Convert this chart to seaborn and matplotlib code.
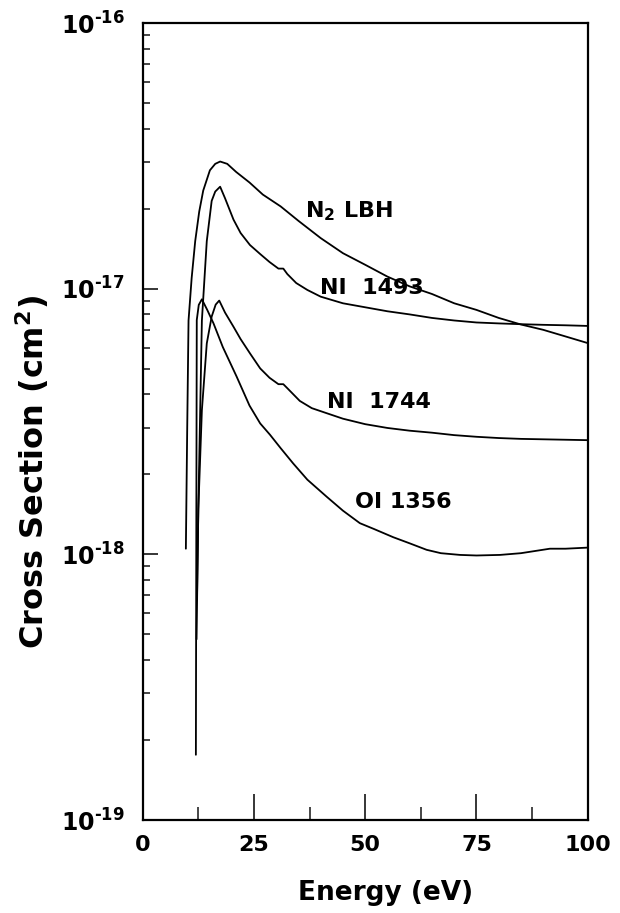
import numpy as np
import pandas as pd
import matplotlib
matplotlib.use("Agg")
import matplotlib.pyplot as plt
import seaborn as sns
from matplotlib import font_manager
from matplotlib.ticker import FixedLocator, FuncFormatter, LogLocator, NullFormatter

# ---------------- data (cross sections in units of 1e-18 cm^2) ----------------
n2_energy = [9.7, 10.0, 10.3, 11.0, 11.8, 12.7, 13.6, 15.1, 16.3, 17.4, 19.0, 21.0, 24.0, 27.0,
             31.0, 35.0, 40.0, 45.0, 50.0, 55.0, 60.0, 65.0, 70.0, 75.0, 80.0, 85.0, 90.0, 95.0, 100.0]
n2_sigma = [1.05, 2.95, 7.59, 10.96, 15.1, 19.5, 23.4, 27.9, 29.5, 30.1, 29.5, 27.5, 25.1, 22.6,
            20.4, 18.0, 15.5, 13.6, 12.3, 11.1, 10.2, 9.55, 8.81, 8.32, 7.76, 7.33, 7.00, 6.61, 6.24]

ni1493_energy = [12.1, 12.5, 13.3, 14.4, 15.5, 16.3, 17.4, 18.5, 20.4, 22.0, 24.1, 26.4, 28.5, 30.5,
                 31.6, 32.5, 34.5, 37.0, 40.0, 45.0, 50.0, 55.0, 60.0, 65.0, 70.0, 75.0, 80.0, 85.0,
                 90.0, 95.0, 100.0]
ni1493_sigma = [0.479, 1.48, 7.59, 15.1, 21.4, 23.2, 24.2, 21.9, 18.2, 16.2, 14.6, 13.5, 12.6, 11.9,
                11.9, 11.35, 10.5, 9.89, 9.33, 8.81, 8.51, 8.22, 8.00, 7.76, 7.59, 7.46, 7.40, 7.35,
                7.31, 7.28, 7.24]

ni1744_energy = [12.2, 12.5, 13.3, 14.4, 15.5, 16.4, 17.2, 18.5, 20.4, 22.0, 24.1, 26.4, 28.5, 30.5,
                 31.6, 32.5, 35.3, 38.0, 41.3, 45.0, 50.0, 55.0, 60.0, 65.0, 70.0, 75.0, 80.0, 85.0,
                 90.0, 95.0, 100.0]
ni1744_sigma = [0.676, 1.48, 3.49, 6.22, 7.85, 8.71, 9.02, 8.13, 7.19, 6.46, 5.71, 5.01, 4.62, 4.37,
                4.37, 4.22, 3.78, 3.55, 3.40, 3.24, 3.09, 2.99, 2.92, 2.87, 2.81, 2.77, 2.74, 2.72,
                2.71, 2.70, 2.69]

oi1356_energy = [11.95, 12.05, 12.15, 12.6, 13.3, 14.5, 15.9, 18.0, 21.1, 24.0, 26.4, 28.6, 31.0,
                 33.8, 37.0, 41.3, 45.0, 48.8, 52.0, 56.3, 60.0, 63.8, 67.0, 71.3, 75.0, 80.3, 85.0,
                 91.5, 95.0, 100.0]
oi1356_sigma = [0.176, 1.26, 7.62, 8.69, 9.12, 8.32, 7.41, 6.03, 4.67, 3.63, 3.11, 2.82, 2.51,
                2.20, 1.91, 1.65, 1.46, 1.31, 1.245, 1.16, 1.10, 1.04, 1.01, 0.995, 0.99, 0.995, 1.01,
                1.05, 1.05, 1.06]

series_names = ["N2 LBH", "NI 1493", "NI 1744", "OI 1356"]
label_texts = ["N$_2$ LBH", "NI  1493", "NI  1744", "OI 1356"]
label_energy = [36.5, 39.8, 41.4, 47.7]
label_sigma = [19.6, 10.05, 3.75, 1.57]

x_ticks = [0, 25, 50, 75, 100]
x_minor = [12.5, 37.5, 62.5, 87.5]
y_ticks = [1e-19, 1e-18, 1e-17, 1e-16]

# ---------------- build table ----------------
frames = []
for name, e, s in zip(series_names,
                      [n2_energy, ni1493_energy, ni1744_energy, oi1356_energy],
                      [n2_sigma, ni1493_sigma, ni1744_sigma, oi1356_sigma]):
    frames.append(pd.DataFrame({"energy": e, "sigma": np.array(s) * 1e-18, "series": name}))
df = pd.concat(frames, ignore_index=True)

# ---------------- style ----------------
sns.set_theme(style="white")
names = {f.name for f in font_manager.fontManager.ttflist}
narrow = "Liberation Sans Narrow" in names
tick_font = "Liberation Sans Narrow" if narrow else "DejaVu Sans"
plt.rcParams["font.family"] = ["DejaVu Sans"]
plt.rcParams["font.weight"] = "bold"
plt.rcParams["mathtext.fontset"] = "custom"
plt.rcParams["mathtext.rm"] = "DejaVu Sans:bold"
plt.rcParams["mathtext.it"] = "DejaVu Sans:bold"
plt.rcParams["mathtext.bf"] = "DejaVu Sans:bold"

W, H = 620, 913
fig = plt.figure(figsize=(W / 100, H / 100), dpi=100)
L_, R_, T_, B_ = 142.7, 587.7, 23.0, 820.0
ax = fig.add_axes([L_ / W, 1 - B_ / H, (R_ - L_) / W, (B_ - T_) / H])

sns.lineplot(data=df, x="energy", y="sigma", hue="series", palette=["black"] * 4,
             sort=False, estimator=None, legend=False, linewidth=1.3, ax=ax)
ax.set_yscale("log")
ax.set_xlim(0, 100)
ax.set_ylim(1e-19, 1e-16)

# ticks
ax.xaxis.set_major_locator(FixedLocator(x_ticks))
ax.xaxis.set_minor_locator(FixedLocator(x_minor))
ax.yaxis.set_major_locator(FixedLocator(y_ticks))
ax.yaxis.set_minor_locator(LogLocator(base=10, subs=np.arange(2, 10)))
ax.yaxis.set_minor_formatter(NullFormatter())
ax.yaxis.set_major_formatter(FuncFormatter(
    lambda v, p: "10$^{\\mathregular{\u2010%d}}$" % abs(int(round(np.log10(v))))))
xs = 20 if narrow else 16
ax.tick_params(axis="x", which="major", direction="in", length=19, width=1.3, pad=11,
               labelsize=xs, bottom=True, top=False)
ax.tick_params(axis="x", which="minor", direction="in", length=9.5, width=1.2, bottom=True, top=False)
ax.tick_params(axis="y", which="major", direction="in", length=11, width=1.3, pad=13,
               labelsize=xs + 1, left=True, right=False)
ax.tick_params(axis="y", which="minor", direction="in", length=5, width=1.2, left=True, right=False)
for lab in ax.get_xticklabels() + ax.get_yticklabels():
    lab.set_fontweight("bold")
    lab.set_color("black")
    lab.set_fontfamily([tick_font, "DejaVu Sans"])

for sp in ax.spines.values():
    sp.set_visible(True)
    sp.set_color("black")
    sp.set_linewidth(1.6)

ax.set_xlabel("Energy (eV)", fontsize=19, fontweight="bold", color="black")
ax.set_ylabel("Cross Section (cm$^2$)", fontsize=23, fontweight="bold", color="black")
ax.xaxis.set_label_coords((386 - L_) / (R_ - L_), (B_ - 893) / (B_ - T_))
ax.xaxis.label.set_va("center")
ax.yaxis.set_label_coords((32 - L_) / (R_ - L_), (B_ - 472) / (B_ - T_))
ax.yaxis.label.set_va("center")

for txt, e, s in zip(label_texts, label_energy, label_sigma):
    ax.text(e, s * 1e-18, txt, fontsize=16, fontweight="bold", ha="left", va="center", color="black")

ax.grid(False)
fig.savefig("out.png", dpi=100, facecolor="white")
